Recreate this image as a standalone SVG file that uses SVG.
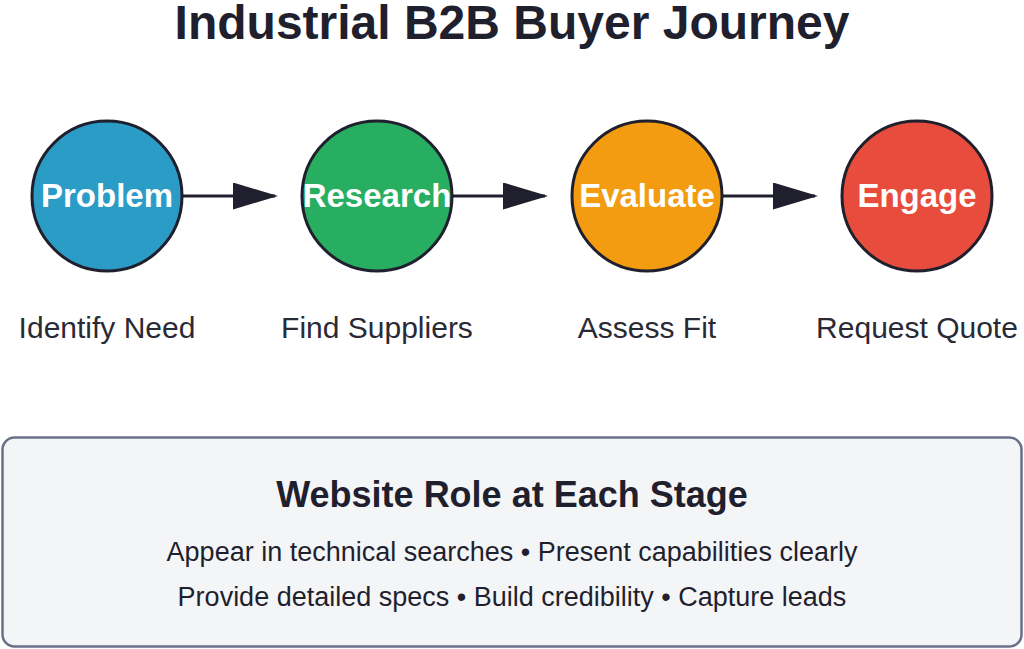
<svg xmlns="http://www.w3.org/2000/svg" width="1024" height="649" viewBox="0 0 1024 649">
<style>
.t{font-family:"Liberation Sans",Arial,sans-serif;fill:#1f1f2e}
.c{stroke:#1f1f2e;stroke-width:3}
.cl{font-family:"Liberation Sans",Arial,sans-serif;font-weight:bold;font-size:33px;fill:#fff;text-anchor:middle}
.lb{font-family:"Liberation Sans",Arial,sans-serif;font-size:30px;fill:#2a2a36;text-anchor:middle}
.ar{stroke:#1f1f2e;stroke-width:3;fill:none;marker-end:url(#ah)}
</style>
<defs>
<marker id="ah" markerWidth="15" markerHeight="9" refX="14" refY="4.5" orient="auto" markerUnits="strokeWidth">
<path d="M0,0 L15,4.5 L0,9 Z" fill="#1f1f2e"/>
</marker>
</defs>
<rect width="1024" height="649" fill="#ffffff"/>
<text class="t" x="512" y="39" font-size="48" font-weight="bold" text-anchor="middle">Industrial B2B Buyer Journey</text>
<g id="connectors">
<line class="ar" x1="183" y1="196" x2="275" y2="196"/>
<line class="ar" x1="453" y1="196" x2="545" y2="196"/>
<line class="ar" x1="723" y1="196" x2="815" y2="196"/>
</g>
<g id="problem">
<circle class="c" cx="107" cy="196" r="75" fill="#2b9cc6"/>
<text class="cl" x="107" y="207">Problem</text>
<text class="lb" x="107" y="338">Identify Need</text>
</g>
<g id="research">
<circle class="c" cx="377" cy="196" r="75" fill="#27ae60"/>
<text class="cl" x="377" y="207">Research</text>
<text class="lb" x="377" y="338">Find Suppliers</text>
</g>
<g id="evaluate">
<circle class="c" cx="647" cy="196" r="75" fill="#f39c12"/>
<text class="cl" x="647" y="207">Evaluate</text>
<text class="lb" x="647" y="338">Assess Fit</text>
</g>
<g id="engage">
<circle class="c" cx="917" cy="196" r="75" fill="#e74c3c"/>
<text class="cl" x="917" y="207">Engage</text>
<text class="lb" x="917" y="338">Request Quote</text>
</g>
<g id="website-role">
<rect x="2.5" y="437.5" width="1019" height="209" rx="12" fill="#f4f5f7" stroke="#6b7089" stroke-width="2.5"/>
<text class="t" x="512" y="507" font-size="36" font-weight="bold" text-anchor="middle">Website Role at Each Stage</text>
<text class="t" x="512" y="561" font-size="27" text-anchor="middle" fill="#2a2a36">Appear in technical searches • Present capabilities clearly</text>
<text class="t" x="512" y="606" font-size="27" text-anchor="middle" fill="#2a2a36">Provide detailed specs • Build credibility • Capture leads</text>
</g>
</svg>
